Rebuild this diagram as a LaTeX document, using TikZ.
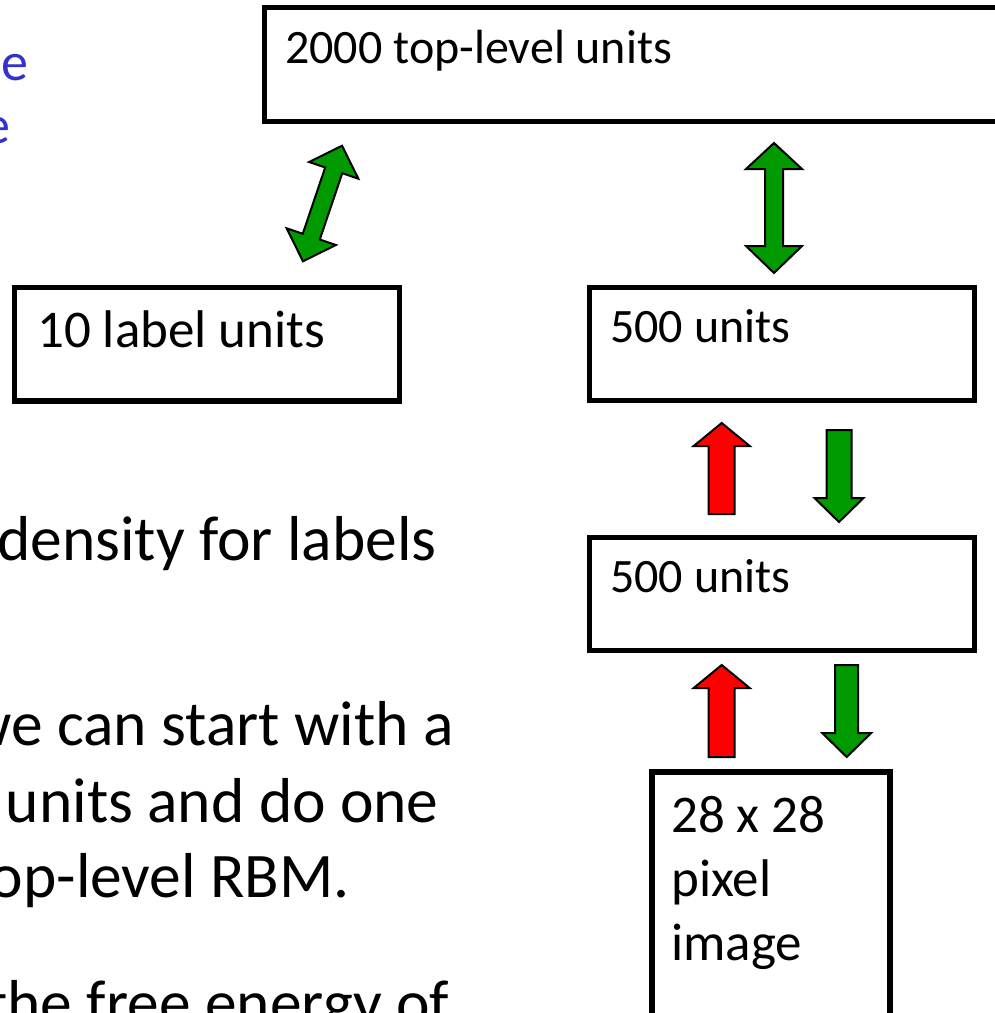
\documentclass[tikz,border=0pt]{standalone}
\usepackage{fontspec}
\setmainfont{Carlito}
\usepackage{tikz}
\usetikzlibrary{calc}
\definecolor{mygreen}{RGB}{0,153,0}
\definecolor{myred}{RGB}{255,0,0}
\definecolor{myblue}{RGB}{51,51,204}
\tikzset{
  box/.style={rectangle, draw=black, line width=5.5pt, inner sep=0pt},
  boxtext/.style={anchor=base west, inner sep=0pt, font=\fontsize{48}{58}\selectfont},
  bigboxtext/.style={anchor=base west, inner sep=0pt, font=\fontsize{53}{64}\selectfont},
  bodytext/.style={anchor=base east, inner sep=0pt, font=\fontsize{63.5}{76}\selectfont},
  fatgreen/.style={fill=mygreen, draw=black, line width=2pt},
  fatred/.style={fill=myred, draw=black, line width=2pt}
}
% block arrow: style, x, tip y, head base y, tail y, head half width, shaft half width
\newcommand{\vertarrow}[7]{%
  \draw[#1] (#2,#3) -- (#2+#6,#4) -- (#2+#7,#4) -- (#2+#7,#5) -- (#2-#7,#5)
    -- (#2-#7,#4) -- (#2-#6,#4) -- cycle;}

\begin{document}
\begin{tikzpicture}[x=1pt, y=-1pt]
  \fill[white] (0,0) rectangle (995,1013);
  \useasboundingbox (0,0) rectangle (995,1013);

  % Slide text (cut off at the left)
  \node[anchor=base west, inner sep=0pt, font=\fontsize{54}{64}\selectfont, text=myblue] (blue1) at (1,80) {e};
  \node[anchor=base east, inner sep=0pt, font=\fontsize{54}{64}\selectfont, text=myblue] (blue2) at (11,143) {e};
  \node[bodytext] (line1) at (437,560) {density for labels};
  \node[bodytext] (line2) at (454,745) {we can start with a};
  \node[bodytext] (line3) at (439,822) {units and do one};
  \node[bodytext] (line4) at (350,897) {top-level RBM.};
  \node[bodytext] (line5) at (449,1024) {the free energy of};

  % Layers
  \node[box, minimum width=760pt, minimum height=114pt] (toplvl) at (644.5,64.5) {};
  \node[box, minimum width=385pt, minimum height=113.5pt] (lblunits) at (207,344.25) {};
  \node[box, minimum width=385pt, minimum height=113pt] (hid2) at (782,344) {};
  \node[box, minimum width=385pt, minimum height=113pt] (hid1) at (782,594) {};
  \node[box, minimum width=238pt, minimum height=268pt] (pixels) at (771,906) {};

  \node[boxtext] (toptxt) at (285,63) {2000 top-level units};
  \node[bigboxtext] (lbltxt) at (37,347) {10 label units};
  \node[boxtext] (hid2txt) at (610,342) {500 units};
  \node[boxtext] (hid1txt) at (610,592) {500 units};
  \node[bigboxtext, align=left] (pixtxt) at (671,960) {28 x 28\\pixel\\image};

  % Undirected connections
  \begin{scope}[shift={(322.5,203.5)}, rotate=-18.7]
    \draw[fatgreen] (0,-61) -- (26,-35) -- (9,-35) -- (9,35) -- (26,35) -- (0,61)
      -- (-26,35) -- (-9,35) -- (-9,-35) -- (-26,-35) -- cycle;
  \end{scope}
  \draw[fatgreen] (774,143) -- (802,169) -- (783,169) -- (783,246) -- (802,246) -- (774,273)
    -- (746,246) -- (765,246) -- (765,169) -- (746,169) -- cycle;

  % Recognition (up) and generative (down) weights
  \vertarrow{fatred}{721.7}{423}{446}{514}{28}{13}
  \vertarrow{fatgreen}{839}{522}{498}{430}{24.5}{12.5}
  \vertarrow{fatred}{721.7}{665}{688}{757}{28}{13}
  \vertarrow{fatgreen}{846.7}{757}{733}{665}{24.5}{11.5}
\end{tikzpicture}
\end{document}
